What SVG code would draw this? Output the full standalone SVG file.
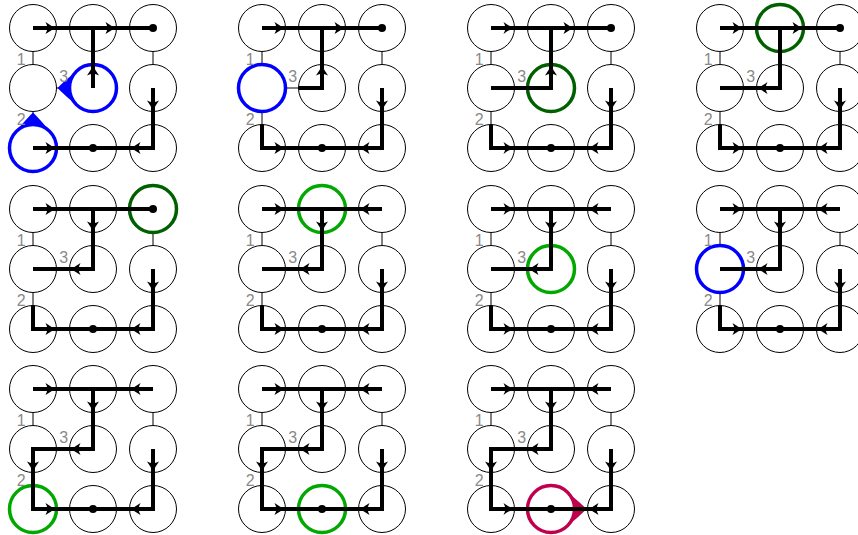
<svg xmlns="http://www.w3.org/2000/svg" width="858" height="535" viewBox="0 0 858 535">
  <style>
    .c { fill: #fff; stroke: #000; stroke-width: 1; }
    .b { stroke: #000; stroke-width: 1; fill: none; }
    .t { fill: none; stroke: #000; stroke-width: 4; stroke-linejoin: miter; stroke-linecap: butt; }
    .hl { fill: none; stroke-width: 3.5; }
    .blue { stroke: #0000ff; }
    .dkgreen { stroke: #006000; }
    .green { stroke: #00a800; }
    .crimson { stroke: #c0004c; }
    .lbl { font-family: "Liberation Sans", Arial, sans-serif; font-size: 16px; fill: #8a8a8a; text-anchor: middle; }
  </style>
  <defs>
    <!-- 3x3 grid of cells with the thin links between some neighbours -->
    <g id="grid">
      <circle class="c" cx="0" cy="0" r="23.5"/>
      <circle class="c" cx="60" cy="0" r="23.5"/>
      <circle class="c" cx="120" cy="0" r="23.5"/>
      <circle class="c" cx="0" cy="60" r="23.5"/>
      <circle class="c" cx="60" cy="60" r="23.5"/>
      <circle class="c" cx="120" cy="60" r="23.5"/>
      <circle class="c" cx="0" cy="120" r="23.5"/>
      <circle class="c" cx="60" cy="120" r="23.5"/>
      <circle class="c" cx="120" cy="120" r="23.5"/>
      <path class="b" d="M0,23.5V36.5M0,83.5V96.5M23.5,60H36.5M120,23.5V36.5"/>
    </g>
    <!-- arrowhead, tip at origin, pointing +x -->
    <path id="ah" d="M0,0 Q-5.5,-1.8 -11,-6 Q-7.5,0 -11,6 Q-5.5,1.8 0,0 Z" fill="#000"/>
    <!-- flared pointer attached to a cell outline, cell centre at origin, pointing +x -->
    <path id="flare" d="M35.5,0 C27,-8.5 15.2,-18.35 11.75,-20.35 A23.5,23.5 0 0 1 11.75,20.35 C15.2,18.35 27,8.5 35.5,0 Z"/>
  </defs>

  <!-- step 1 -->
  <g id="panel-1" transform="translate(33,28)">
    <use href="#grid"/>
    <circle class="hl blue" cx="60" cy="60" r="23.5"/>
    <circle class="hl blue" cx="0" cy="120" r="23.5"/>
    <use href="#flare" transform="translate(60,60) rotate(180)" fill="#0000ff"/>
    <use href="#flare" transform="translate(0,120) rotate(-90)" fill="#0000ff"/>
    <g class="edges">
      <path class="t" d="M0,0H120"/>
      <path class="t" d="M60,60V0"/>
      <path class="t" d="M0,120H60"/>
      <path class="t" d="M120,60V120H60"/>
      <use href="#ah" transform="translate(23.5,0)"/>
      <use href="#ah" transform="translate(83.5,0)"/>
      <use href="#ah" transform="translate(60,36.5) rotate(-90)"/>
      <use href="#ah" transform="translate(23.5,120)"/>
      <use href="#ah" transform="translate(120,83.5) rotate(90)"/>
      <use href="#ah" transform="translate(96.5,120) rotate(180)"/>
      <circle cx="120" cy="0" r="4"/>
      <circle cx="60" cy="120" r="4"/>
    </g>
    <text class="lbl" x="-11.8" y="36.5">1</text>
    <text class="lbl" x="30.8" y="54">3</text>
    <text class="lbl" x="-11.7" y="96.5">2</text>
  </g>

  <!-- step 2 -->
  <g id="panel-2" transform="translate(262,28)">
    <use href="#grid"/>
    <circle class="hl blue" cx="0" cy="60" r="23.5"/>
    <g class="edges">
      <path class="t" d="M0,0H120"/>
      <path class="t" d="M36.5,60H60V0"/>
      <path class="t" d="M0,96.5V120H60"/>
      <path class="t" d="M120,60V120H60"/>
      <use href="#ah" transform="translate(23.5,0)"/>
      <use href="#ah" transform="translate(83.5,0)"/>
      <use href="#ah" transform="translate(60,36.5) rotate(-90)"/>
      <use href="#ah" transform="translate(23.5,120)"/>
      <use href="#ah" transform="translate(120,83.5) rotate(90)"/>
      <use href="#ah" transform="translate(96.5,120) rotate(180)"/>
      <circle cx="120" cy="0" r="4"/>
      <circle cx="60" cy="120" r="4"/>
    </g>
    <text class="lbl" x="-11.8" y="36.5">1</text>
    <text class="lbl" x="30.8" y="54">3</text>
    <text class="lbl" x="-11.7" y="96.5">2</text>
  </g>

  <!-- step 3 -->
  <g id="panel-3" transform="translate(491,28)">
    <use href="#grid"/>
    <circle class="hl dkgreen" cx="60" cy="60" r="23.5"/>
    <g class="edges">
      <path class="t" d="M0,0H120"/>
      <path class="t" d="M0,60H60V0"/>
      <path class="t" d="M0,96.5V120H60"/>
      <path class="t" d="M120,60V120H60"/>
      <use href="#ah" transform="translate(23.5,0)"/>
      <use href="#ah" transform="translate(83.5,0)"/>
      <use href="#ah" transform="translate(60,36.5) rotate(-90)"/>
      <use href="#ah" transform="translate(23.5,120)"/>
      <use href="#ah" transform="translate(120,83.5) rotate(90)"/>
      <use href="#ah" transform="translate(96.5,120) rotate(180)"/>
      <circle cx="120" cy="0" r="4"/>
      <circle cx="60" cy="120" r="4"/>
    </g>
    <text class="lbl" x="-11.8" y="36.5">1</text>
    <text class="lbl" x="30.8" y="54">3</text>
    <text class="lbl" x="-11.7" y="96.5">2</text>
  </g>

  <!-- step 4 -->
  <g id="panel-4" transform="translate(720,28)">
    <use href="#grid"/>
    <circle class="hl dkgreen" cx="60" cy="0" r="23.5"/>
    <g class="edges">
      <path class="t" d="M0,0H120"/>
      <path class="t" d="M60,0V60H0"/>
      <path class="t" d="M0,96.5V120H60"/>
      <path class="t" d="M120,60V120H60"/>
      <use href="#ah" transform="translate(23.5,0)"/>
      <use href="#ah" transform="translate(83.5,0)"/>
      <use href="#ah" transform="translate(36.5,60) rotate(180)"/>
      <use href="#ah" transform="translate(23.5,120)"/>
      <use href="#ah" transform="translate(120,83.5) rotate(90)"/>
      <use href="#ah" transform="translate(96.5,120) rotate(180)"/>
      <circle cx="120" cy="0" r="4"/>
      <circle cx="60" cy="120" r="4"/>
    </g>
    <text class="lbl" x="-11.8" y="36.5">1</text>
    <text class="lbl" x="30.8" y="54">3</text>
    <text class="lbl" x="-11.7" y="96.5">2</text>
  </g>

  <!-- step 5 -->
  <g id="panel-5" transform="translate(33,209)">
    <use href="#grid"/>
    <circle class="hl dkgreen" cx="120" cy="0" r="23.5"/>
    <g class="edges">
      <path class="t" d="M0,0H120"/>
      <path class="t" d="M60,0V60H0"/>
      <path class="t" d="M0,96.5V120H60"/>
      <path class="t" d="M120,60V120H60"/>
      <use href="#ah" transform="translate(23.5,0)"/>
      <use href="#ah" transform="translate(60,23.5) rotate(90)"/>
      <use href="#ah" transform="translate(36.5,60) rotate(180)"/>
      <use href="#ah" transform="translate(23.5,120)"/>
      <use href="#ah" transform="translate(120,83.5) rotate(90)"/>
      <use href="#ah" transform="translate(96.5,120) rotate(180)"/>
      <circle cx="120" cy="0" r="4"/>
      <circle cx="60" cy="120" r="4"/>
    </g>
    <text class="lbl" x="-11.8" y="36.5">1</text>
    <text class="lbl" x="30.8" y="54">3</text>
    <text class="lbl" x="-11.7" y="96.5">2</text>
  </g>

  <!-- step 6 -->
  <g id="panel-6" transform="translate(262,209)">
    <use href="#grid"/>
    <circle class="hl green" cx="60" cy="0" r="23.5"/>
    <g class="edges">
      <path class="t" d="M0,0H120"/>
      <path class="t" d="M60,0V60H0"/>
      <path class="t" d="M0,96.5V120H60"/>
      <path class="t" d="M120,60V120H60"/>
      <use href="#ah" transform="translate(23.5,0)"/>
      <use href="#ah" transform="translate(96.5,0) rotate(180)"/>
      <use href="#ah" transform="translate(60,23.5) rotate(90)"/>
      <use href="#ah" transform="translate(36.5,60) rotate(180)"/>
      <use href="#ah" transform="translate(23.5,120)"/>
      <use href="#ah" transform="translate(120,83.5) rotate(90)"/>
      <use href="#ah" transform="translate(96.5,120) rotate(180)"/>
      <circle cx="60" cy="120" r="4"/>
    </g>
    <text class="lbl" x="-11.8" y="36.5">1</text>
    <text class="lbl" x="30.8" y="54">3</text>
    <text class="lbl" x="-11.7" y="96.5">2</text>
  </g>

  <!-- step 7 -->
  <g id="panel-7" transform="translate(491,209)">
    <use href="#grid"/>
    <circle class="hl green" cx="60" cy="60" r="23.5"/>
    <g class="edges">
      <path class="t" d="M0,0H120"/>
      <path class="t" d="M60,0V60H0"/>
      <path class="t" d="M0,96.5V120H60"/>
      <path class="t" d="M120,60V120H60"/>
      <use href="#ah" transform="translate(23.5,0)"/>
      <use href="#ah" transform="translate(96.5,0) rotate(180)"/>
      <use href="#ah" transform="translate(60,23.5) rotate(90)"/>
      <use href="#ah" transform="translate(36.5,60) rotate(180)"/>
      <use href="#ah" transform="translate(23.5,120)"/>
      <use href="#ah" transform="translate(120,83.5) rotate(90)"/>
      <use href="#ah" transform="translate(96.5,120) rotate(180)"/>
      <circle cx="60" cy="120" r="4"/>
    </g>
    <text class="lbl" x="-11.8" y="36.5">1</text>
    <text class="lbl" x="30.8" y="54">3</text>
    <text class="lbl" x="-11.7" y="96.5">2</text>
  </g>

  <!-- step 8 -->
  <g id="panel-8" transform="translate(720,209)">
    <use href="#grid"/>
    <circle class="hl blue" cx="0" cy="60" r="23.5"/>
    <g class="edges">
      <path class="t" d="M0,0H120"/>
      <path class="t" d="M60,0V60H0"/>
      <path class="t" d="M0,96.5V120H60"/>
      <path class="t" d="M120,60V120H60"/>
      <use href="#ah" transform="translate(23.5,0)"/>
      <use href="#ah" transform="translate(96.5,0) rotate(180)"/>
      <use href="#ah" transform="translate(60,23.5) rotate(90)"/>
      <use href="#ah" transform="translate(36.5,60) rotate(180)"/>
      <use href="#ah" transform="translate(23.5,120)"/>
      <use href="#ah" transform="translate(120,83.5) rotate(90)"/>
      <use href="#ah" transform="translate(96.5,120) rotate(180)"/>
      <circle cx="60" cy="120" r="4"/>
    </g>
    <text class="lbl" x="-11.8" y="36.5">1</text>
    <text class="lbl" x="30.8" y="54">3</text>
    <text class="lbl" x="-11.7" y="96.5">2</text>
  </g>

  <!-- step 9 -->
  <g id="panel-9" transform="translate(33,389)">
    <use href="#grid"/>
    <circle class="hl green" cx="0" cy="120" r="23.5"/>
    <g class="edges">
      <path class="t" d="M0,0H120"/>
      <path class="t" d="M60,0V60H0V120H60"/>
      <path class="t" d="M120,60V120H60"/>
      <use href="#ah" transform="translate(23.5,0)"/>
      <use href="#ah" transform="translate(96.5,0) rotate(180)"/>
      <use href="#ah" transform="translate(60,23.5) rotate(90)"/>
      <use href="#ah" transform="translate(36.5,60) rotate(180)"/>
      <use href="#ah" transform="translate(0,83.5) rotate(90)"/>
      <use href="#ah" transform="translate(23.5,120)"/>
      <use href="#ah" transform="translate(120,83.5) rotate(90)"/>
      <use href="#ah" transform="translate(96.5,120) rotate(180)"/>
      <circle cx="60" cy="120" r="4"/>
    </g>
    <text class="lbl" x="-11.8" y="36.5">1</text>
    <text class="lbl" x="30.8" y="54">3</text>
    <text class="lbl" x="-11.7" y="96.5">2</text>
  </g>

  <!-- step 10 -->
  <g id="panel-10" transform="translate(262,389)">
    <use href="#grid"/>
    <circle class="hl green" cx="60" cy="120" r="23.5"/>
    <g class="edges">
      <path class="t" d="M0,0H120"/>
      <path class="t" d="M60,0V60H0V120H60"/>
      <path class="t" d="M120,60V120H60"/>
      <use href="#ah" transform="translate(23.5,0)"/>
      <use href="#ah" transform="translate(96.5,0) rotate(180)"/>
      <use href="#ah" transform="translate(60,23.5) rotate(90)"/>
      <use href="#ah" transform="translate(36.5,60) rotate(180)"/>
      <use href="#ah" transform="translate(0,83.5) rotate(90)"/>
      <use href="#ah" transform="translate(23.5,120)"/>
      <use href="#ah" transform="translate(120,83.5) rotate(90)"/>
      <use href="#ah" transform="translate(96.5,120) rotate(180)"/>
      <circle cx="60" cy="120" r="4"/>
    </g>
    <text class="lbl" x="-11.8" y="36.5">1</text>
    <text class="lbl" x="30.8" y="54">3</text>
    <text class="lbl" x="-11.7" y="96.5">2</text>
  </g>

  <!-- step 11 -->
  <g id="panel-11" transform="translate(491,389)">
    <use href="#grid"/>
    <circle class="hl crimson" cx="60" cy="120" r="23.5"/>
    <use href="#flare" transform="translate(60,120)" fill="#c0004c"/>
    <g class="edges">
      <path class="t" d="M0,0H120"/>
      <path class="t" d="M60,0V60H0V120H60"/>
      <path class="t" d="M120,60V120H60"/>
      <use href="#ah" transform="translate(23.5,0)"/>
      <use href="#ah" transform="translate(96.5,0) rotate(180)"/>
      <use href="#ah" transform="translate(60,23.5) rotate(90)"/>
      <use href="#ah" transform="translate(36.5,60) rotate(180)"/>
      <use href="#ah" transform="translate(0,83.5) rotate(90)"/>
      <use href="#ah" transform="translate(23.5,120)"/>
      <use href="#ah" transform="translate(120,83.5) rotate(90)"/>
      <use href="#ah" transform="translate(96.5,120) rotate(180)"/>
      <circle cx="60" cy="120" r="4"/>
    </g>
    <text class="lbl" x="-11.8" y="36.5">1</text>
    <text class="lbl" x="30.8" y="54">3</text>
    <text class="lbl" x="-11.7" y="96.5">2</text>
  </g>
</svg>
